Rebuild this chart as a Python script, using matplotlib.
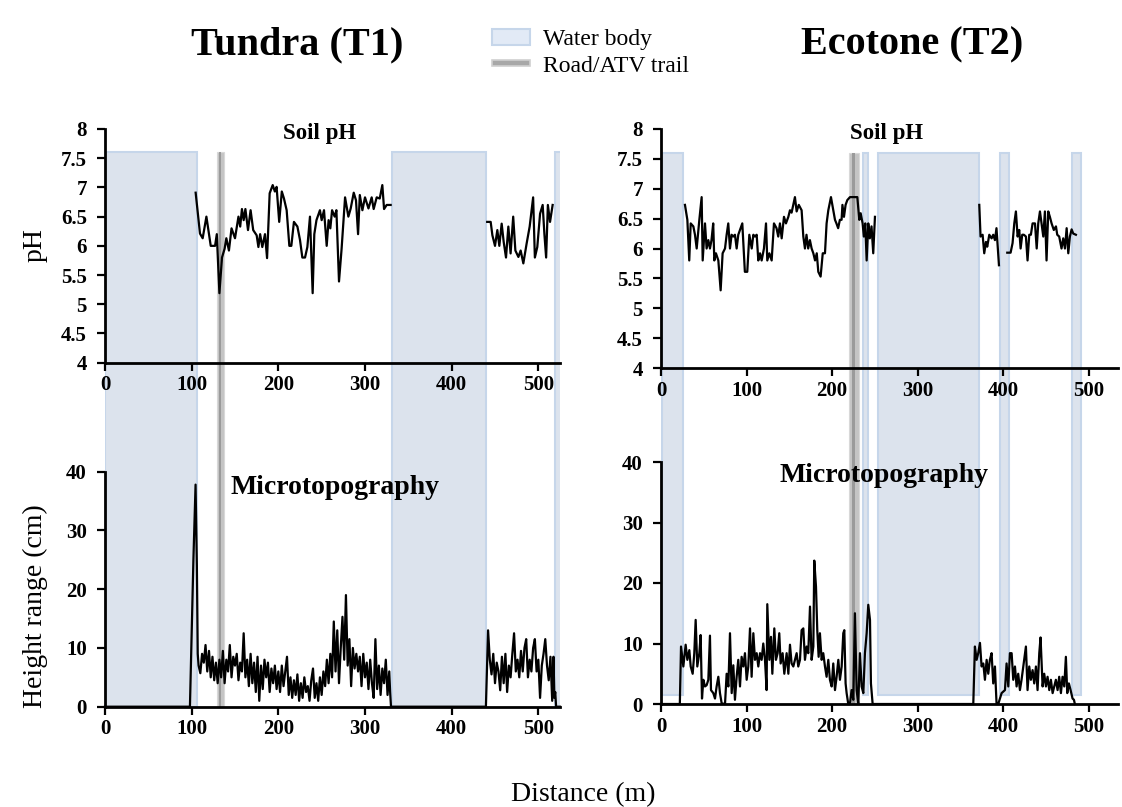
import matplotlib
matplotlib.use('Agg')
import matplotlib.pyplot as plt
from matplotlib.patches import Rectangle
from matplotlib.ticker import FuncFormatter
import numpy as np

nan = float('nan')

# ---------------- data ----------------
ph_ticks = [4, 4.5, 5, 5.5, 6, 6.5, 7, 7.5, 8]
mt_ticks = [0, 10, 20, 30, 40]
dist_ticks = [0, 100, 200, 300, 400, 500]

# Tundra (T1) soil pH
t1_ph_dist = [104.6, 109.6, 112.7, 117, 122, 127, 129, 132, 135, 138, 140, 143, 146, 150, 154, 156, 158, 160, 162, 165,
              168, 171, 175, 177, 179, 181.5, 184.6, 187, 190, 193.5, 196, 198, 201, 204, 206.5, 209.6, 212.7, 215, 218, 222,
              225, 227.7, 230.8, 233.5, 236.5, 239.6, 241.5, 244, 248, 250, 252.7, 255.8, 258, 260, 262, 265, 267, 270, 273, 277,
              280.8, 283.5, 287, 289.6, 292, 294, 297, 300, 304, 307.7, 310, 313.5, 317, 320, 322, 325, 329.6, nan,
              441, 445, 447, 450, 452.7, 455, 457.7, 460, 462.7, 465.4, 468, 471, 473.5, 477, 479.6, 482.7, 486.5, 490, 494, 496,
              498.8, 502, 505, 507, 509, 511, 513.5, 516.5]
t1_ph = [6.91, 6.21, 6.13, 6.5, 6.0, 6.0, 6.2, 5.19, 5.8, 5.95, 6.13, 5.92, 6.3, 6.13, 6.5, 6.33, 6.63, 6.44, 6.63, 6.27,
         6.61, 6.27, 6.18, 5.98, 6.2, 5.98, 6.2, 5.79, 6.9, 7.04, 6.93, 7.01, 6.41, 6.93, 6.81, 6.61, 6.0, 6.0, 6.41, 6.33,
         6.1, 5.8, 5.8, 5.98, 6.5, 5.19, 6.2, 6.44, 6.61, 6.44, 6.61, 6.0, 6.44, 6.3, 6.61, 6.5, 6.61, 5.39, 5.95, 6.83,
         6.5, 6.64, 6.91, 6.78, 6.2, 6.87, 6.61, 6.83, 6.64, 6.83, 6.63, 6.83, 6.81, 7.04, 6.63, 6.7, 6.7, nan,
         6.41, 6.41, 6.18, 6.0, 6.27, 6.0, 6.38, 6.07, 5.8, 6.33, 5.87, 6.5, 5.92, 5.81, 5.92, 5.7, 6.04, 6.33, 6.83, 5.8,
         5.98, 6.55, 6.7, 6.2, 5.8, 6.7, 6.41, 6.7]

# Tundra (T1) microtopography
t1_mt_dist = ([0, 98, 102, 104.5, 106, 107] + list(range(108, 330, 2)) + [329, 330, 439.5]
              + list(range(442, 518, 2)) + [517.5, 518.5, 519.5, 520.5, 525])
t1_mt = ([0, 0, 25, 37.8, 24, 9] +
         [7, 5.7, 9, 7.5, 10.5, 6, 9.5, 5, 8.5, 4.5,
          7.5, 4, 8, 5, 9.5, 4, 8, 6, 10.5, 5,
          8.5, 7, 9, 4.5, 7.5, 6, 12.5, 5, 8, 3.5,
          9, 4, 7.5, 2.5, 8.5, 1, 7, 3, 8, 5,
          7.5, 2.5, 6.5, 4, 7, 3, 6, 2.5, 7, 3.5,
          6, 8.5, 2, 5, 1.5, 4.5, 2, 5.5, 1, 4,
          1.5, 5, 2.5, 3.5, 1, 4.5, 6.5, 1.5, 4, 1,
          5, 2, 6, 3.5, 8, 4, 9, 5, 14.5, 6,
          13, 4, 10, 15.3, 8, 19, 7, 11.5, 3.5, 10,
          6.5, 9, 6, 8.5, 3.5, 9, 5, 7.5, 3, 8,
          4, 1.5, 11.5, 3, 7, 2, 6.5, 4, 8, 2,
          6] + [2.5, 0, 0] +
         [13, 8, 5.5, 9, 4, 7.5, 6, 2.8, 8.5, 4,
          9, 2.5, 7, 5, 9, 12.5, 6, 8, 5, 9.5,
          6, 10, 11.5, 5, 8, 6, 10, 11.5, 6, 8,
          1.5, 7, 9, 11.5, 7, 4.5, 8.5, 1] + [8.5, 1.5, 2.5, 0, 0])

# Ecotone (T2) soil pH
t2_ph_dist = [28, 30.8, 33, 34.7, 37.8, 39.7, 41.7, 44.8, 47.5, 48.7, 51.4, 53.3, 55.3, 57.2, 59, 61, 62.3, 64.2, 67, 69.7,
              72, 74.8, 76.7, 78.6, 80.6, 82.5, 84.5, 86.4, 88.4, 90.3, 92.3, 95, 98, 100.8, 103.2, 106, 107.9, 109.8, 111.8, 113.7,
              115.7, 117.6, 120.3, 122.7, 124.2, 126.6, 129.3, 132, 135, 137, 139, 141, 143.7, 146, 148.8, 150.7, 152.6, 154.6, 156.5, 158.5,
              161, 164.3, 166.3, 168.2, 170, 172, 174, 176, 178, 180, 182, 183.8, 186.5, 189, 191.6, 193.5, 195.5, 198.6, 201.3, 203.3,
              205, 207, 209, 211, 212, 213.8, 215.7, 217.7, 220.8, 225.5, 229.4, 231.7, 233.3, 235.6, 237, 238.7, 240.3, 242.2, 244, 246,
              248, 250, nan,
              371.9, 373.4, 375.8, 377.7, 379.7, 381.2, 383.6, 386.3, 388.2, 390.2, 392, 394.9, nan,
              404.6, 408.5, 410.8, 412.8, 414.7, 416.7, 418.6, 420.2, 422.1, 424, 426.4, 428.3, 430.3, 432.2, 434.2, 437, 439, 440.8,
              442.8, 444.7, 446.7, 448.6, 450.5, 452.5, 454.4, 456.4, 459, 461.5, 463, 465.3, 468, 470, 472, 474, 475.9, 477.8,
              479.8, 481.7, 484.8]
t2_ph = [6.73, 6.48, 5.8, 6.42, 6.37, 6.23, 6.0, 6.48, 6.86, 5.8, 6.42, 6.0, 6.14, 6.0, 6.14, 6.42, 5.8, 5.92, 5.8, 5.3,
         5.92, 6.0, 6.23, 6.42, 6.0, 6.23, 6.2, 6.23, 6.0, 6.23, 6.31, 6.42, 5.61, 5.61, 6.23, 6.0, 6.23, 6.2, 6.23, 5.8,
         5.92, 5.8, 6.0, 6.42, 5.8, 5.92, 5.8, 6.42, 6.34, 6.2, 6.42, 6.17, 6.53, 6.42, 6.53, 6.64, 6.6, 6.73, 6.86, 6.62,
         6.73, 6.64, 6.2, 6.0, 6.23, 6.0, 6.14, 6.0, 5.92, 5.8, 5.92, 5.61, 5.53, 5.92, 5.92, 6.42, 6.64, 6.86, 6.64, 6.48,
         6.42, 6.34, 6.48, 6.48, 6.73, 6.53, 6.73, 6.81, 6.86, 6.86, 6.86, 6.48, 6.59, 6.42, 6.2, 6.42, 5.8, 6.42, 6.17, 6.37,
         5.92, 6.53, nan,
         6.73, 6.2, 6.23, 5.92, 6.11, 6.03, 6.23, 6.17, 6.23, 6.14, 6.34, 5.72, nan,
         5.93, 5.93, 6.09, 6.42, 6.62, 6.2, 6.31, 6.0, 6.23, 6.23, 6.2, 5.8, 6.23, 6.23, 6.42, 6.42, 6.0, 6.42,
         6.62, 6.42, 6.2, 6.62, 5.8, 6.62, 6.53, 6.42, 6.31, 6.37, 6.23, 6.2, 6.0, 6.17, 6.0, 6.34, 5.92, 6.2,
         6.32, 6.25, 6.23]

# Ecotone (T2) microtopography
t2_mt_dist = [0, 22, 23.4, 26.1, 28.8, 30.8, 33.1, 34.7, 37.0, 38.9, 40.5, 42.4, 44.8, 46.3, 47.9, 49.5, 51.4, 53.3, 55.3, 57.2,
              58.4, 61.1, 63.1, 65.0, 67.0, 68.9, 70.9, 74.8, 76.7, 78.7, 80.6, 82.6, 84.5, 86.4, 88.4, 90.3, 92.3, 94.2, 96.2, 98.1,
              100.1, 102.0, 104.0, 105.9, 107.9, 109.8, 111.8, 113.7, 115.7, 117.6, 119.5, 121.5, 123.4, 124.2, 126.6, 128.5, 130.1, 132.4, 134.3, 136.3,
              138.2, 139.8, 142.1, 144.1, 146.8, 148.8, 150.7, 152.6, 154.6, 156.5, 158.5, 160.4, 162.4, 164.3, 166.3, 168.2, 170.2, 172.1, 174.1, 176.0,
              178.0, 179.1, 181.1, 182.6, 184.2, 185.7, 187.7, 189.6, 191.6, 193.5, 195.5, 197.4, 199.4, 201.3, 203.3, 205.2, 207.2, 209.1, 211.1, 213.0,
              214.2, 215.7, 216.9, 218.8, 220.8, 222.7, 224.7, 226.6, 228.6, 230.5, 232.5, 234.4, 236.4, 238.3, 240.3, 242.2, 244.2, 245.3, 247.3, 364.9,
              366.8, 368.8, 370.7, 372.7, 374.6, 376.6, 378.5, 380.5, 382.4, 384.3, 386.3, 388.2, 390.2, 392.1, 394.1, 398.0, 401.9, 403.8, 405.8, 407.7,
              409.7, 411.6, 413.6, 415.5, 417.4, 419.4, 421.3, 423.3, 426.4, 428.3, 430.3, 432.2, 434.2, 436.1, 438.1, 440.0, 442.0, 443.5, 445.9, 447.8,
              449.8, 451.7, 453.7, 455.6, 457.6, 459.5, 461.4, 463.4, 465.3, 467.3, 469.2, 471.2, 473.1, 474.7, 476.6, 478.6, 480.9, 482.5, 483.6]
t2_mt = [0, 0, 9.5, 6.2, 9.8, 7.3, 8.9, 6.2, 5.0, 8.4, 13.9, 6.2, 8.4, 11.4, 0.9, 4.0, 2.9, 3.1, 4.0, 11.3,
         2.3, 1.8, 0.9, 2.9, 4.5, 1.8, 0.1, 0, 5.0, 2.9, 11.7, 1.8, 6.4, 0.7, 4.5, 7.3, 2.9, 7.8, 6.2, 8.4,
         4.0, 6.2, 12.5, 4.5, 11.7, 7.3, 8.4, 6.2, 8.4, 7.3, 10.0, 7.3, 2.3, 16.5, 7.3, 11.1, 5.0, 12.5, 7.3, 8.4,
         11.7, 6.7, 8.4, 5.0, 8.4, 5.0, 9.8, 6.7, 6.2, 7.3, 8.4, 6.2, 7.3, 12.2, 12.5, 7.3, 9.5, 8.4, 16.1, 7.3,
         9.5, 23.7, 19.4, 12.2, 7.8, 11.7, 7.3, 8.4, 6.2, 4.5, 7.3, 4.0, 2.9, 6.7, 2.3, 4.5, 7.3, 4.0, 6.2, 11.7,
         12.2, 3.4, 1.8, 0, 0, 2.3, 0.7, 15.0, 2.3, 0, 8.4, 2.9, 1.8, 8.4, 11.7, 16.4, 13.9, 3.4, 0, 0,
         9.5, 7.3, 8.4, 10.1, 6.2, 6.7, 4.0, 7.3, 5.0, 7.3, 8.4, 3.4, 6.2, 0, 0, 1.8, 2.3, 6.7, 2.9, 8.4,
         8.4, 4.0, 6.2, 2.9, 5.0, 2.3, 4.0, 6.2, 9.5, 2.3, 6.2, 4.0, 5.6, 3.4, 6.2, 2.3, 8.4, 11.0, 2.9, 5.0,
         2.9, 4.5, 2.3, 4.0, 1.8, 2.9, 4.0, 2.3, 4.5, 1.8, 4.5, 2.9, 7.8, 1.8, 3.4, 2.3, 0.9, 0.7, 0]

# Water bodies and road (start, end in metres)
t1_water_start = [0, 331, 519]
t1_water_end = [106, 440, 530]
t1_road = [129, 137]
t2_water_start = [1, 236, 253, 396, 480.5]
t2_water_end = [26, 242, 371, 407, 490.5]
t2_road = [220, 231]

# ---------------- figure ----------------
W, H = 1122, 807
plt.rcParams['font.family'] = ['Liberation Serif', 'DejaVu Serif']
fig = plt.figure(figsize=(W / 100, H / 100), dpi=100)


def rect(l, t, r, b):
    return [l / W, 1 - b / H, (r - l) / W, (b - t) / H]


WATER_FC = '#dce3ed'
WATER_EC = '#c6d6ea'


def style(ax, yticks, ylim, xmax):
    ax.set_facecolor('none')
    ax.set_xlim(0, xmax)
    ax.set_ylim(*ylim)
    ax.set_yticks(yticks)
    ax.set_xticks(dist_ticks)
    ax.yaxis.set_major_formatter(FuncFormatter(lambda v, p: f'{v:g}'))
    for s in ['top', 'right']:
        ax.spines[s].set_visible(False)
    for s in ['left', 'bottom']:
        ax.spines[s].set_linewidth(2)
    ax.tick_params(direction='out', length=6, width=1.6, labelsize=15)
    ax.tick_params(axis='y', pad=7)
    ax.tick_params(axis='x', pad=3)
    for lab in ax.get_xticklabels() + ax.get_yticklabels():
        lab.set_fontweight('bold')


def column(left, right, ph_top, ph_bot, mt_top, mt_bot, xmax,
           ph_x, ph_y, mt_x, mt_y, w_start, w_end, road, band_top, band_bot):
    ov = fig.add_axes(rect(left, ph_top, right, mt_bot))
    ov.set_xlim(0, xmax)
    ov.set_ylim(0, 1)
    ov.axis('off')
    ax1 = fig.add_axes(rect(left, ph_top, right, ph_bot))
    ax2 = fig.add_axes(rect(left, mt_top, right, mt_bot))
    style(ax1, ph_ticks, (4, 8), xmax)
    style(ax2, mt_ticks, (0, 40), xmax)
    inv = ov.transAxes.inverted()
    ytop = inv.transform(ax1.transData.transform((0, band_top)))[1]
    ybot = inv.transform(ax2.transData.transform((0, band_bot)))[1]
    for s, e in zip(w_start, w_end):
        ov.add_patch(Rectangle((s, ybot), e - s, ytop - ybot, facecolor=WATER_FC,
                               edgecolor=WATER_EC, lw=1.5, clip_on=True))
    rb = inv.transform(ax2.transData.transform((0, 0)))[1]
    ov.add_patch(Rectangle((road[0], rb), road[1] - road[0], ytop - rb,
                           facecolor='#c4c4c4', edgecolor='#d8d8d8', lw=0.8))
    w = road[1] - road[0]
    ov.add_patch(Rectangle((road[0] + w * 0.3, rb), w * 0.35, ytop - rb,
                           facecolor='#9a9a9a', edgecolor='none'))
    ax1.plot(ph_x, ph_y, color='black', lw=1.6, zorder=5)
    ax2.plot(mt_x, mt_y, color='black', lw=1.6, zorder=5, clip_on=False)
    return ax1, ax2


ax1, ax2 = column(105, 560, 129, 362.7, 471.7, 706.7, 525,
                  t1_ph_dist, t1_ph, t1_mt_dist, t1_mt,
                  t1_water_start, t1_water_end, t1_road, 7.6, 0)
ax3, ax4 = column(661, 1118, 129, 368, 462, 704, 534,
                  t2_ph_dist, t2_ph, t2_mt_dist, t2_mt,
                  t2_water_start, t2_water_end, t2_road, 7.6, 1.5)


def ftext(x, y, s, **kw):
    fig.text(x / W, 1 - y / H, s, **kw)


ftext(297, 45, 'Tundra (T1)', fontsize=29, fontweight='bold', ha='center', va='center')
ftext(912, 45, 'Ecotone (T2)', fontsize=29, fontweight='bold', ha='center', va='center')
ftext(320, 133, 'Soil pH', fontsize=16.5, fontweight='bold', ha='center', va='center')
ftext(887, 133, 'Soil pH', fontsize=16.5, fontweight='bold', ha='center', va='center')
ftext(335, 488, 'Microtopography', fontsize=20, fontweight='bold', ha='center', va='center')
ftext(884, 476, 'Microtopography', fontsize=20, fontweight='bold', ha='center', va='center')
ftext(35, 245, 'pH', fontsize=20, rotation=90, ha='center', va='center')
ftext(35, 606, 'Height range (cm)', fontsize=20, rotation=90, ha='center', va='center')
ftext(583, 795, 'Distance (m)', fontsize=20, ha='center', va='center')

# legend (manual)
fig.patches.append(Rectangle((492 / W, 1 - 45 / H), 38 / W, 16 / H, transform=fig.transFigure,
                             facecolor='#e2eaf6', edgecolor='#c6d6ea', lw=1.5))
fig.patches.append(Rectangle((492 / W, 1 - 66 / H), 38 / W, 6 / H, transform=fig.transFigure,
                             facecolor='#a8a8a8', edgecolor='#d0d0d0', lw=1.2))
ftext(543, 39, 'Water body', fontsize=17, ha='left', va='center')
ftext(543, 66, 'Road/ATV trail', fontsize=17, ha='left', va='center')

fig.savefig('out.png', dpi=100)
